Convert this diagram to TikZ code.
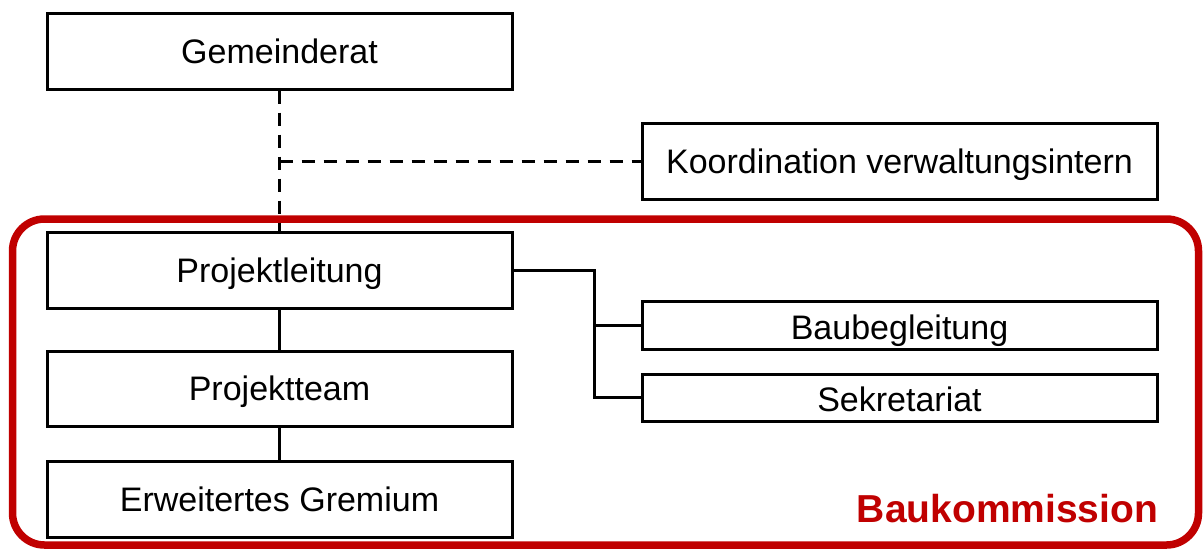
\documentclass[tikz,border=0pt]{standalone}
\usepackage{fontspec}
\setmainfont{Liberation Sans}
\definecolor{bkred}{HTML}{C00000}
\begin{document}
\begin{tikzpicture}[x=1pt,y=-1pt,
  box/.style={draw=black,line width=3pt,rectangle,inner sep=0pt,anchor=center,
    text height=24pt,text depth=0pt,font=\fontsize{34}{40}\selectfont},
  smallbox/.style={box,text height=28pt},
  conn/.style={line width=3pt,draw=black},
  dconn/.style={line width=3pt,draw=black,dash pattern=on 13pt off 9pt}]
\useasboundingbox (0,0) rectangle (1204,550);
\draw[bkred,line width=7.5pt,rounded corners=32pt] (12.5,219) rectangle (1198.5,545);
\node[box,minimum width=465pt,minimum height=76pt] (gr) at (279.5,51) {Gemeinderat};
\node[box,minimum width=515pt,minimum height=76pt] (ko) at (899.5,161) {Koordination verwaltungsintern};
\node[box,minimum width=465pt,minimum height=76pt] (pl) at (279.5,270) {Projektleitung};
\node[box,minimum width=465pt,minimum height=75pt] (pt) at (279.5,388.5) {Projektteam};
\node[box,minimum width=465pt,minimum height=76pt] (eg) at (279.5,499) {Erweitertes Gremium};
\node[smallbox,minimum width=515pt,minimum height=48pt] (bb) at (899.5,325) {Baubegleitung};
\node[smallbox,minimum width=515pt,minimum height=47pt] (se) at (899.5,397.5) {Sekretariat};
\node[text=bkred,font=\fontsize{39}{46}\selectfont\bfseries,anchor=center,inner sep=0pt,
  text height=28pt,text depth=0pt] (bk) at (1007.5,508) {Baukommission};
\draw[dconn] (gr) -- (pl);
\coordinate (j) at (gr.south |- ko.west);
\draw[dconn] (j) -- (ko.west);
\draw[conn] (pl) -- (pt);
\draw[conn] (pt) -- (eg);
\coordinate (bus) at (594,0);
\draw[conn] (pl.east) -- (pl.east -| bus) -- (bus |- se.west) -- (se.west);
\draw[conn] (bus |- bb.west) -- (bb.west);
\end{tikzpicture}
\end{document}
